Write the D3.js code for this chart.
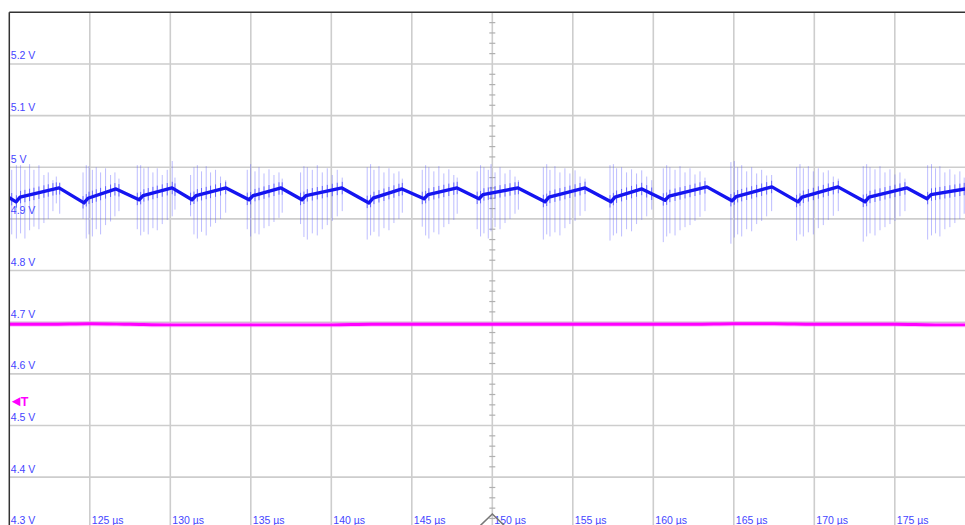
<!DOCTYPE html>
<html><head><meta charset="utf-8">
<script src="https://cdn.jsdelivr.net/npm/d3@7"></script>
<style>html,body{margin:0;padding:0;background:#fff;overflow:hidden}</style>
</head><body>
<script>
// ---- data ----
const timeTicks = [125,130,135,140,145,150,155,160,165,170,175];
const timeLabels = ["125 µs","130 µs","135 µs","140 µs","145 µs","150 µs","155 µs","160 µs","165 µs","170 µs","175 µs"];
const voltTicks = [5.2,5.1,5.0,4.9,4.8,4.7,4.6,4.5,4.4,4.3];
const voltLabels = ["5.2 V","5.1 V","5 V","4.9 V","4.8 V","4.7 V","4.6 V","4.5 V","4.4 V","4.3 V"];
const triggerLevel = 4.546;
const triggerTime = 150;

// blue trace (µs, V)
const blueT = [120.00,120.42,120.67,123.09,124.64,124.89,126.63,128.06,128.31,130.11,131.35,131.60,133.46,134.89,135.14,136.88,138.18,138.43,140.66,142.34,142.59,144.39,145.76,146.01,147.81,149.17,149.42,151.60,153.27,153.52,155.76,157.37,157.62,159.29,160.73,160.98,163.33,164.89,165.14,167.37,168.99,169.24,171.47,173.15,173.40,175.76,177.00,177.25,179.36,180.00];
const blueV = [4.941,4.933,4.942,4.960,4.931,4.940,4.958,4.937,4.945,4.960,4.937,4.945,4.960,4.937,4.945,4.960,4.937,4.945,4.960,4.931,4.940,4.958,4.939,4.947,4.960,4.939,4.947,4.960,4.933,4.942,4.960,4.933,4.942,4.958,4.936,4.944,4.962,4.935,4.943,4.962,4.933,4.942,4.962,4.933,4.942,4.960,4.939,4.947,4.958,4.960];

// switching spikes on the blue trace
const spikeT = [
 120.15,120.44,120.70,120.97,121.26,121.53,121.84,122.15,122.42,122.71,122.92,123.13,
 124.58,124.78,124.95,125.16,125.40,125.67,125.98,126.29,126.56,126.81,
 127.95,128.16,128.36,128.63,128.92,129.19,129.50,129.81,130.12,130.29,
 131.26,131.47,131.68,131.94,132.23,132.50,132.81,133.12,133.44,
 134.78,134.99,135.26,135.51,135.82,136.13,136.44,136.75,136.95,
 138.09,138.30,138.51,138.82,139.13,139.44,139.75,140.06,140.37,140.68,
 142.23,142.44,142.65,142.96,143.27,143.58,143.89,144.20,144.41,
 145.65,145.86,146.06,146.37,146.68,146.99,147.30,147.61,147.82,
 149.06,149.27,149.48,149.75,149.92,150.17,150.48,150.79,151.10,151.41,151.62,
 153.17,153.38,153.58,153.89,154.20,154.51,154.82,155.14,155.45,155.76,
 157.31,157.52,157.72,158.03,158.34,158.65,158.96,159.28,159.59,159.90,
 160.62,160.83,161.03,161.35,161.66,161.97,162.28,162.59,162.90,163.21,
 164.82,165.03,165.24,165.49,165.80,166.11,166.42,166.73,167.04,167.35,
 168.90,169.11,169.32,169.63,169.94,170.25,170.56,170.87,171.18,171.49,
 173.04,173.25,173.46,173.77,174.08,174.39,174.70,175.01,175.32,175.63,
 177.04,177.28,177.53,177.80,178.11,178.42,178.73,179.04,179.31];
const spikeHi = [
 4.995,5.004,5.004,4.995,5.006,4.995,5.004,4.985,4.990,4.975,4.982,4.970,
 4.990,5.004,5.002,4.995,5.000,4.990,4.998,4.985,4.990,4.978,
 5.004,5.004,4.998,5.000,4.990,4.998,4.985,4.995,5.012,4.980,
 4.985,5.000,5.004,4.992,5.002,4.990,4.995,4.982,4.975,
 4.995,5.006,4.992,5.000,4.988,4.996,4.985,4.990,4.978,
 4.990,5.002,5.000,4.995,5.004,4.990,4.998,4.985,4.995,4.980,
 5.000,5.006,4.995,5.002,4.990,4.998,4.988,4.992,4.978,
 4.995,5.004,5.000,4.992,5.002,4.988,4.996,4.985,4.980,
 4.992,5.004,5.000,4.995,5.006,4.990,5.000,4.988,4.995,4.982,4.975,
 5.000,5.006,4.995,5.002,4.990,4.998,4.988,4.994,4.982,4.978,
 5.004,5.006,4.998,5.000,4.990,4.996,4.988,4.994,4.982,4.975,
 4.998,5.004,5.000,4.995,5.002,4.990,4.998,4.986,4.992,4.980,
 5.010,5.012,5.000,5.004,4.992,5.000,4.988,4.995,4.984,4.985,
 5.000,5.006,4.998,5.002,4.992,4.998,4.990,4.994,4.982,4.978,
 5.002,5.006,5.000,4.996,5.002,4.990,4.996,4.986,4.990,4.978,
 5.004,5.006,4.998,5.002,4.990,4.996,4.986,4.992,4.980];
const spikeLo = [
 4.870,4.862,4.872,4.862,4.878,4.885,4.880,4.892,4.900,4.915,4.930,4.910,
 4.900,4.862,4.870,4.866,4.880,4.870,4.888,4.895,4.905,4.915,
 4.880,4.868,4.875,4.870,4.882,4.878,4.890,4.898,4.905,4.918,
 4.905,4.870,4.862,4.875,4.868,4.885,4.892,4.900,4.912,
 4.880,4.866,4.872,4.870,4.882,4.886,4.894,4.902,4.912,
 4.890,4.865,4.860,4.872,4.868,4.880,4.888,4.896,4.905,4.915,
 4.860,4.868,4.875,4.866,4.882,4.878,4.892,4.900,4.912,
 4.885,4.868,4.862,4.874,4.870,4.884,4.890,4.898,4.910,
 4.880,4.866,4.872,4.862,4.876,4.884,4.880,4.892,4.900,4.910,4.918,
 4.860,4.870,4.866,4.874,4.868,4.882,4.890,4.896,4.906,4.915,
 4.858,4.868,4.872,4.866,4.880,4.876,4.890,4.898,4.905,4.918,
 4.855,4.866,4.872,4.868,4.878,4.884,4.888,4.896,4.904,4.915,
 4.852,4.864,4.870,4.866,4.880,4.876,4.890,4.896,4.905,4.915,
 4.858,4.870,4.866,4.874,4.870,4.882,4.888,4.898,4.906,4.915,
 4.856,4.866,4.872,4.868,4.878,4.884,4.890,4.896,4.905,4.915,
 4.860,4.868,4.872,4.866,4.880,4.884,4.892,4.900,4.910];

// magenta trace (µs, V)
const pinkT = [120,122.5,125,127.5,130,132.5,135,137.5,140,142.5,145,147.5,150,152.5,155,157.5,160,162.5,165,167.5,170,172.5,175,177.5,180];
const pinkV = [4.696,4.696,4.697,4.696,4.695,4.695,4.695,4.695,4.695,4.696,4.696,4.696,4.696,4.696,4.696,4.696,4.696,4.696,4.697,4.697,4.696,4.696,4.696,4.695,4.695];

// ---- drawing ----
const W = 965, H = 525;
const x = d3.scaleLinear().domain([120,180]).range([9.3, 975.3]);
const y = d3.scaleLinear().domain([4.3,5.3]).range([528.8, 12.3]);

const svg = d3.select("body").append("svg").attr("width",W).attr("height",H)
  .style("font-family","'Liberation Sans', Arial, sans-serif");

svg.append("defs").append("clipPath").attr("id","plot")
  .append("rect").attr("x",x(120)).attr("y",y(5.3)).attr("width",x(180)-x(120)).attr("height",y(4.3)-y(5.3));

const grid = svg.append("g");
grid.selectAll("line.v").data(timeTicks).join("line")
  .attr("x1",d=>x(d)).attr("x2",d=>x(d)).attr("y1",y(5.3)).attr("y2",H)
  .attr("stroke","#cdcdcd").attr("stroke-width",1.6);
grid.selectAll("line.h").data(voltTicks).join("line")
  .attr("x1",x(120)).attr("x2",W).attr("y1",d=>y(d)).attr("y2",d=>y(d))
  .attr("stroke","#cdcdcd").attr("stroke-width",1.6);

// minor ticks on centre vertical line
const minor = y.ticks(50).filter(v => Math.abs(Math.round(v*10)-v*10) > 1e-6);
grid.selectAll("line.m").data(minor).join("line")
  .attr("x1",x(triggerTime)-3).attr("x2",x(triggerTime)+3)
  .attr("y1",d=>y(d)).attr("y2",d=>y(d))
  .attr("stroke","#b0b0b0").attr("stroke-width",1.2);

// labels
const lab = svg.append("g").attr("fill","#4545ff").style("font-size","10.5px");
lab.selectAll("text.v").data(voltTicks).join("text")
  .attr("x",x(120)+1.5).attr("y",d=>Math.min(y(d)-4.5, 523.5))
  .text((d,i)=>voltLabels[i]);
lab.selectAll("text.t").data(timeTicks).join("text")
  .attr("x",d=>x(d)+2).attr("y",523.5)
  .text((d,i)=>timeLabels[i]);

const plot = svg.append("g").attr("clip-path","url(#plot)");

// magenta trace
const pinkData = pinkT.map((t,i)=>[t,pinkV[i]]);
const pl = d3.line().x(d=>x(d[0])).y(d=>y(d[1])).curve(d3.curveMonotoneX);
plot.append("path").attr("d",pl(pinkData)).attr("fill","none")
  .attr("stroke","#ff66ff").attr("stroke-width",5).attr("stroke-opacity",0.4);
plot.append("path").attr("d",pl(pinkData)).attr("fill","none")
  .attr("stroke","#ff00ff").attr("stroke-width",2.8);

// blue trace
const blueData = blueT.map((t,i)=>[t,blueV[i]]);
const traceAt = t => {
  const i = d3.bisector(d=>d[0]).right(blueData, t);
  const a = blueData[Math.max(0,i-1)], b = blueData[Math.min(blueData.length-1,i)];
  if (a[0]===b[0]) return a[1];
  return a[1] + (b[1]-a[1])*(t-a[0])/(b[0]-a[0]);
};
const spikes = spikeT.map((t,i)=>({t, hi:spikeHi[i], lo:spikeLo[i], c:traceAt(t)}));
plot.append("g").selectAll("line").data(spikes).join("line")
  .attr("x1",d=>x(d.t)).attr("x2",d=>x(d.t))
  .attr("y1",d=>y(d.hi)).attr("y2",d=>y(d.lo))
  .attr("stroke","#5a5aff").attr("stroke-opacity",0.4).attr("stroke-width",1);
plot.append("g").selectAll("line").data(spikes).join("line")
  .attr("x1",d=>x(d.t)).attr("x2",d=>x(d.t))
  .attr("y1",d=>y(Math.min(d.hi, d.c+0.012))).attr("y2",d=>y(Math.max(d.lo, d.c-0.012)))
  .attr("stroke","#2020ff").attr("stroke-opacity",0.6).attr("stroke-width",1);
const bl = d3.line().x(d=>x(d[0])).y(d=>y(d[1]));
plot.append("path").attr("d",bl(blueData)).attr("fill","none")
  .attr("stroke","#1515f0").attr("stroke-width",3.4).attr("stroke-linejoin","round");

// frame (top and left)
svg.append("line").attr("x1",x(120)).attr("x2",W).attr("y1",y(5.3)).attr("y2",y(5.3))
  .attr("stroke","#333").attr("stroke-width",1.5);
svg.append("line").attr("x1",x(120)).attr("x2",x(120)).attr("y1",y(5.3)).attr("y2",H)
  .attr("stroke","#333").attr("stroke-width",1.5);

// trigger level marker
const ty = y(triggerLevel);
svg.append("path").attr("d",`M${x(120)+2.5},${ty} L${x(120)+11},${ty-4.5} L${x(120)+11},${ty+4.5} Z`).attr("fill","#ff00ff");
svg.append("text").attr("x",x(120)+11.5).attr("y",ty+4.6).attr("fill","#ff00ff")
  .style("font-size","12.5px").style("font-weight","bold").text("T");

// trigger time marker at bottom
const tx = x(triggerTime);
svg.append("path").attr("d",`M${tx-12},${H+0.5} L${tx},${H-11} L${tx+12},${H+0.5}`)
  .attr("fill","none").attr("stroke","#777").attr("stroke-width",1.6);
</script>
</body></html>
